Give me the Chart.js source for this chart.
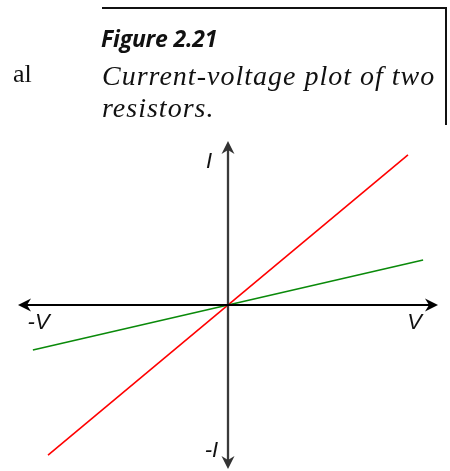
<!DOCTYPE html>
<html lang="en">
<head>
    <meta charset="UTF-8">
    <title>Current-voltage plot of two resistors</title>
    <script src="https://cdn.jsdelivr.net/npm/chart.js"></script>
    <style>
        body { margin: 0; background: #fff; }
        #wrap { position: relative; width: 450px; height: 471px; overflow: hidden; }
        #ivChart { position: absolute; left: 0; top: 0; }
        .txt { position: absolute; line-height: 1; white-space: nowrap; color: #111; }
        .serif { font-family: "Liberation Serif", "Times New Roman", serif; }
        #box { position: absolute; left: 102px; top: 7px; width: 343px; height: 116px;
               border-top: 2px solid #111; border-right: 2px solid #111; }
    </style>
</head>
<body>
<div id="wrap">
    <canvas id="ivChart" width="450" height="471"></canvas>
    <div class="txt serif" style="left:13px; top:61px; font-size:26px;">al</div>
    <div id="box"></div>
    <div class="txt" style="left:101px; top:26.5px; font-family:'Open Sans', sans-serif; font-weight:700; font-style:italic; font-size:23px; letter-spacing:-0.2px;">Figure 2.21</div>
    <div class="txt serif" style="left:102px; top:62px; font-style:italic; font-size:28px; letter-spacing:1px;">Current-voltage plot of two</div>
    <div class="txt serif" style="left:102px; top:94px; font-style:italic; font-size:28px; letter-spacing:1px;">resistors.</div>
</div>

<script>
    // Values (axes run from -1 to 1)
    const voltageRed = [-0.857, 0.857];
    const currentRed = [-0.915, 0.915];
    const voltageGreen = [-0.929, 0.929];
    const currentGreen = [-0.274, 0.274];
    const axisLimit = 1;

    const toPoints = (xs, ys) => xs.map((x, i) => ({ x: x, y: ys[i] }));

    // arrowheads and axis labels, placed through the scales
    const axisDecor = {
        id: 'axisDecor',
        afterDatasetsDraw(chart) {
            const { ctx, scales: { x, y } } = chart;
            const arrow = (vx, vy, color, angle) => {
                const px = x.getPixelForValue(vx), py = y.getPixelForValue(vy);
                ctx.save();
                ctx.translate(px, py);
                ctx.rotate(angle);
                ctx.fillStyle = color;
                ctx.beginPath();
                ctx.moveTo(0, 0);
                ctx.lineTo(-13, -6.5);
                ctx.lineTo(-9, 0);
                ctx.lineTo(-13, 6.5);
                ctx.closePath();
                ctx.fill();
                ctx.restore();
            };
            arrow(axisLimit, 0, '#000', 0);
            arrow(-axisLimit, 0, '#000', Math.PI);
            arrow(0, axisLimit, '#333', -Math.PI / 2);
            arrow(0, -axisLimit, '#333', Math.PI / 2);

            ctx.save();
            ctx.fillStyle = '#111';
            ctx.font = 'italic 22px "Liberation Sans", Arial, sans-serif';
            ctx.textAlign = 'center';
            ctx.textBaseline = 'alphabetic';
            const label = (t, vx, vy) => ctx.fillText(t, x.getPixelForValue(vx), y.getPixelForValue(vy));
            label('I', -0.09, 0.835);
            label('-I', -0.079, -0.927);
            label('-V', -0.902, -0.146);
            label('V', 0.888, -0.146);
            ctx.restore();
        }
    };

    const ctx = document.getElementById('ivChart').getContext('2d');
    const chart = new Chart(ctx, {
        type: 'scatter',
        data: {
            datasets: [{
                label: 'V axis',
                data: toPoints([-axisLimit + 0.03, axisLimit - 0.03], [0, 0]),
                showLine: true,
                borderColor: '#000',
                borderWidth: 2,
                pointRadius: 0
            }, {
                label: 'I axis',
                data: toPoints([0, 0], [-axisLimit + 0.03, axisLimit - 0.03]),
                showLine: true,
                borderColor: '#3a3a3a',
                borderWidth: 2.3,
                pointRadius: 0
            }, {
                label: 'Resistor 1',
                data: toPoints(voltageGreen, currentGreen),
                showLine: true,
                borderColor: '#0a8a0a',
                borderWidth: 1.6,
                pointRadius: 0
            }, {
                label: 'Resistor 2',
                data: toPoints(voltageRed, currentRed),
                showLine: true,
                borderColor: '#ff0000',
                borderWidth: 1.6,
                pointRadius: 0
            }]
        },
        options: {
            responsive: false,
            animation: false,
            layout: { padding: 0 },
            plugins: {
                legend: { display: false },
                tooltip: { enabled: false }
            },
            scales: {
                x: { type: 'linear', display: false, min: -1.0857, max: 1.0571 },
                y: { type: 'linear', display: false, min: -1.0122, max: 1.8598 }
            }
        },
        plugins: [axisDecor]
    });
</script>
</body>
</html>
